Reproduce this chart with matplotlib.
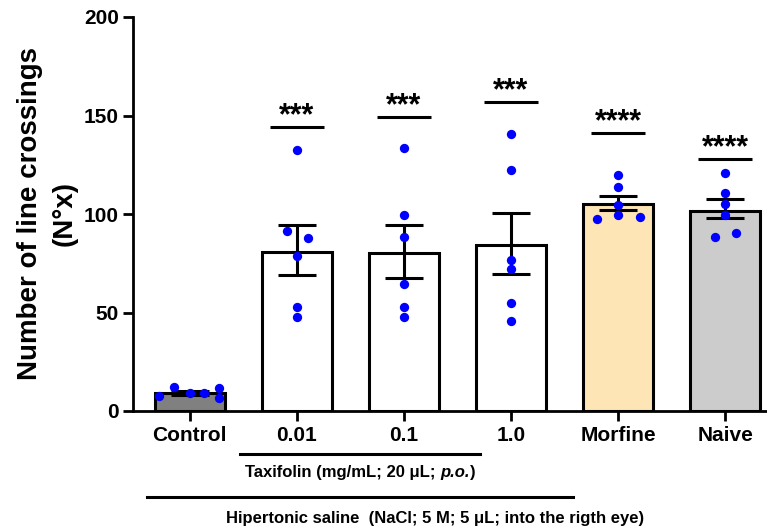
import matplotlib
matplotlib.use("Agg")
import matplotlib.pyplot as plt
import numpy as np

plt.rcParams['font.family'] = ['Liberation Sans', 'DejaVu Sans']
plt.rcParams['font.weight'] = 'bold'

categories = ["Control", "0.01", "0.1", "1.0", "Morfine", "Naive"]
means = [9.1, 80.9, 80.4, 84.4, 104.9, 101.5]
sem_hi = [1.0, 13.4, 13.9, 16.3, 4.2, 6.0]
sem_lo = [1.0, 11.7, 12.7, 14.7, 2.9, 3.7]
points = [
    [7.6, 12.2, 9.1, 9.1, 11.7, 6.6],
    [132.6, 91.5, 87.7, 78.7, 52.6, 47.6],
    [133.7, 99.7, 88.5, 64.7, 52.6, 47.6],
    [140.8, 122.5, 76.6, 72.1, 54.7, 45.7],
    [119.6, 113.6, 104.6, 99.5, 97.6, 98.6],
    [120.6, 110.5, 105.1, 99.5, 88.5, 90.5],
]
offsets = [
    [-0.29, -0.15, 0.0, 0.13, 0.27, 0.27],
    [0.0, -0.09, 0.10, 0.0, 0.0, 0.0],
    [0.0, 0.0, 0.0, 0.0, 0.0, 0.0],
    [0.0, 0.0, 0.0, 0.0, 0.0, 0.0],
    [0.0, 0.0, 0.0, 0.0, -0.20, 0.20],
    [0.0, 0.0, 0.0, 0.0, -0.10, 0.10],
]
sig_labels = ["", "***", "***", "***", "****", "****"]
sig_heights = [None, 144, 149, 157, 141, 128]
colors = ["#808080", "#FFFFFF", "#FFFFFF", "#FFFFFF", "#FDE5B5", "#CCCCCC"]

fig = plt.figure(figsize=(7.67, 5.28), dpi=100)
ax = fig.add_axes([133/767, 117/528, 634/767, 394/528])

x = np.arange(len(categories))
ax.bar(x, means, width=0.65, color=colors, edgecolor="black", linewidth=2.2, zorder=2)
ax.errorbar(x, means, yerr=[sem_lo, sem_hi], fmt="none", ecolor="black",
            elinewidth=2.2, capsize=14, capthick=2.2, zorder=3)
for i in range(len(categories)):
    ax.scatter(x[i] + np.array(offsets[i]), points[i], s=45, color="#0000FF",
               zorder=4, clip_on=False, linewidths=0)
    if sig_heights[i] is not None:
        h = sig_heights[i]
        ax.plot([x[i] - 0.25, x[i] + 0.25], [h, h], color="black", lw=2.2, solid_capstyle="butt")
        ax.text(x[i], h + 1.5, sig_labels[i], ha="center", va="baseline", fontsize=22, fontweight="bold")

ax.set_xlim(-0.53, 5.39)
ax.set_ylim(0, 200)
ax.set_yticks([0, 50, 100, 150, 200])
ax.set_xticks(x)
ax.set_xticklabels(categories, fontsize=15, fontweight="bold")
ax.tick_params(axis="y", labelsize=15, width=2, length=7, direction="out", pad=3)
ax.tick_params(axis="x", width=2, length=7, direction="out", pad=4)
for lab in ax.get_yticklabels():
    lab.set_fontweight("bold")
for s in ["top", "right"]:
    ax.spines[s].set_visible(False)
ax.spines["left"].set_linewidth(2)
ax.spines["bottom"].set_linewidth(2)

ax.set_ylabel("Number of line crossings\n(N\u00b0x)", fontsize=20, fontweight="bold",
              linespacing=1.4, labelpad=5)

tr = ax.get_xaxis_transform()
ax.plot([0.47, 2.71], [-0.109, -0.109], transform=tr, color="black", lw=2.2, clip_on=False)

# Taxifolin label with italic "p.o." assembled from three text pieces
fig.canvas.draw()
renderer = fig.canvas.get_renderer()
parts = [("Taxifolin (mg/mL; 20 \u03bcL; ", "normal"), ("p.o.", "italic"), (")", "normal")]
texts = []
widths = []
for s, st in parts:
    t = fig.text(0, 0, s, fontsize=12, fontweight="bold", fontstyle=st, va="center", ha="left")
    texts.append(t)
    widths.append(t.get_window_extent(renderer).width)
total = sum(widths)
cx_disp = ax.transData.transform((1.59, 0))[0]
cy_disp = ax.transAxes.transform((0, -0.157))[1]
start = cx_disp - total / 2
for t, w in zip(texts, widths):
    xf, yf = fig.transFigure.inverted().transform((start, cy_disp))
    t.set_position((xf, yf))
    start += w

ax.plot([-0.40, 3.58], [-0.218, -0.218], transform=tr, color="black", lw=2.2, clip_on=False)
ax.text(2.29, -0.272, "Hipertonic saline  (NaCl; 5 M; 5 \u03bcL; into the rigth eye)", transform=tr,
        ha="center", va="center", fontsize=12, fontweight="bold")

fig.savefig("out.png", dpi=100)
